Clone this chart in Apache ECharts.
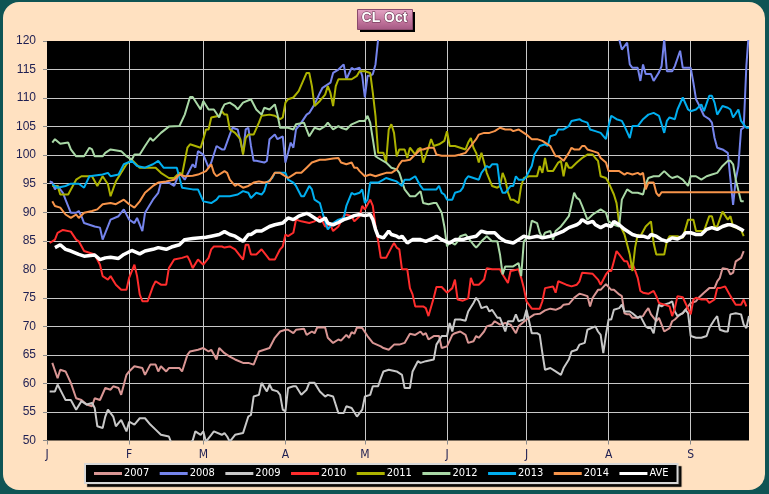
<!DOCTYPE html>
<html><head><meta charset="utf-8">
<script src="https://cdn.jsdelivr.net/npm/echarts@6/dist/echarts.min.js"></script>
<style>
html,body{margin:0;padding:0;background:#0f5454;width:769px;height:494px;overflow:hidden}
#panel{position:absolute;left:3px;top:2px;width:762px;height:488px;background:#FFE1C1;border-radius:16px}
#chart{position:absolute;left:0;top:0;width:769px;height:494px}
</style></head><body><div id="panel"></div><div id="chart"></div>
<script>
// x = calendar day of year (0 = Jan 1), y = price
const monthLetters = ['J','F','M','A','M','J','J','A','S'];
const monthStartDays = [0,31,59,90,120,151,181,212,243];
const lastDay = 265;
const yTicks = {min:50, max:120, step:5};
const seriesNames = ['2007','2008','2009','2010','2011','2012','2013','2014','AVE'];

const s2007 = [[2,63.6],[4,60.9],[5,62.4],[7,62.1],[9,60.1],[11,57.4],[13,57.1],[15,56.3],[17,56.0],[18,57.4],[20,57.1],[22,59.2],[24,58.9],[25,59.5],[27,59.2],[28,58.0],[30,61.5],[31,62.1],[33,63.0],[36,62.7],[37,61.5],[39,63.3],[41,63.3],[42,62.1],[43,63.0],[45,62.1],[46,62.7],[50,62.7],[51,62.1],[53,65.0],[54,65.6],[57,65.9],[59,66.2],[61,65.6],[62,65.9],[64,64.2],[65,66.2],[67,65.3],[69,64.7],[71,64.2],[74,63.6],[76,63.6],[78,63.3],[80,65.6],[82,65.9],[84,66.2],[86,68.0],[88,69.1],[90,69.4],[91,69.4],[93,68.8],[94,69.4],[97,69.6],[98,68.5],[100,69.1],[101,68.8],[102,69.8],[105,69.8],[106,68.0],[108,67.1],[110,67.7],[111,67.5],[113,68.5],[114,68.0],[115,69.0],[116,68.7],[117,69.8],[119,69.7],[121,68.3],[123,67.1],[126,66.5],[127,66.2],[129,65.9],[131,66.8],[133,66.8],[135,67.1],[137,68.7],[139,68.5],[141,69.1],[142,68.5],[143,68.8],[144,67.7],[146,68.3],[148,68.3],[149,66.2],[151,66.5],[153,68.5],[154,68.8],[156,69.1],[158,68.5],[159,67.1],[161,67.4],[162,68.3],[163,68.0],[165,69.1],[166,70.0],[168,70.3],[169,70.9],[171,70.3],[173,70.6],[175,70.3],[177,68.8],[178,70.0],[180,70.8],[182,71.5],[184,72.1],[186,72.2],[188,72.8],[190,73.1],[192,72.9],[194,73.3],[195,73.8],[197,73.9],[199,75.0],[201,75.7],[202,75.6],[204,75.3],[205,73.5],[206,75.0],[208,76.4],[209,76.4],[211,77.4],[213,76.4],[214,76.4],[216,75.6],[217,75.3],[218,72.3],[219,72.1],[220,72.1],[221,71.5],[223,71.5],[225,71.8],[226,72.6],[227,73.2],[228,72.1],[230,70.9],[231,71.5],[232,70.3],[233,69.1],[235,69.7],[236,70.9],[237,71.2],[239,72.1],[240,72.3],[242,73.5],[243,74.1],[245,74.4],[246,75.0],[248,75.9],[250,76.7],[252,76.7],[253,77.9],[254,78.5],[255,80.2],[257,80.0],[258,79.1],[259,79.4],[260,81.4],[262,82.0],[263,83.2]];

const s2008 = [[1,95.4],[2,95.2],[3,94.0],[4,94.6],[6,93.4],[7,92.2],[9,89.9],[11,89.9],[12,90.2],[13,89.3],[14,88.1],[18,87.5],[20,87.3],[21,85.2],[23,87.5],[24,88.7],[27,89.3],[29,90.5],[31,88.7],[33,88.1],[34,89.0],[36,86.7],[37,89.9],[40,92.2],[42,93.4],[43,95.2],[46,95.2],[48,94.6],[50,96.9],[52,95.7],[53,96.6],[55,98.4],[56,97.8],[57,100.7],[59,100.1],[61,97.8],[62,98.7],[64,101.6],[66,101.0],[67,101.0],[69,103.6],[70,104.8],[72,104.5],[74,100.4],[75,104.5],[76,104.8],[77,101.6],[78,99.0],[79,99.0],[82,98.7],[83,99.0],[84,102.8],[86,103.6],[87,102.8],[89,103.3],[90,98.7],[91,100.4],[92,102.2],[93,101.3],[94,104.5],[96,105.7],[98,107.1],[99,107.4],[101,108.9],[103,110.9],[104,111.8],[107,112.7],[108,114.4],[110,115.0],[112,115.9],[113,113.3],[115,115.3],[116,115.0],[118,115.3],[119,113.9],[120,110.1],[121,113.9],[122,113.9],[123,114.2],[124,115.9],[125,120.3],[128,124],[140,130],[160,136],[180,140],[195,134],[214,126],[216,120.3],[217,118.5],[219,119.7],[220,115.9],[221,115.3],[223,115.3],[224,113.0],[225,115.9],[226,114.2],[228,114.2],[229,113.0],[231,114.5],[232,115.6],[233,120.3],[234,114.7],[236,114.7],[237,115.6],[239,118.3],[240,115.3],[243,115.3],[244,112.7],[245,109.8],[246,108.9],[248,106.9],[250,106.3],[251,105.7],[252,103.0],[253,101.3],[255,101.0],[257,100.4],[258,95.7],[259,91.3],[260,95.7],[261,98.1],[262,104.5],[263,104.8],[264,115.6],[265,122]];

const s2009 = [[1,58.6],[3,58.6],[4,59.8],[6,58.0],[7,57.1],[9,57.1],[11,55.4],[13,56.9],[15,56.3],[17,56.6],[18,55.7],[19,52.5],[21,52.2],[22,54.2],[23,55.4],[25,54.2],[26,52.5],[28,53.6],[30,51.6],[31,53.3],[33,52.8],[35,53.9],[37,53.9],[39,52.8],[41,51.9],[43,51.0],[46,50.7],[47,49.5],[49,48.2],[52,48.5],[55,50.0],[56,51.6],[58,51.0],[59,51.6],[60,49.8],[62,51.0],[63,51.6],[66,51.0],[67,51.3],[68,50.7],[69,49.8],[71,51.0],[74,51.3],[76,54.2],[77,54.5],[78,57.7],[80,58.0],[81,60.1],[83,58.6],[84,59.8],[85,58.9],[87,58.6],[88,58.0],[89,55.4],[90,55.1],[91,59.2],[93,59.5],[94,59.5],[96,58.0],[98,58.9],[99,60.1],[101,60.1],[103,58.6],[105,57.7],[106,58.0],[108,57.7],[110,54.8],[112,54.8],[113,56.0],[115,55.7],[117,54.2],[119,55.4],[120,57.7],[122,58.0],[123,59.5],[125,59.5],[126,60.9],[127,62.1],[129,62.4],[132,62.1],[134,61.5],[135,59.2],[137,59.2],[138,62.1],[140,63.9],[141,63.6],[143,63.9],[146,64.2],[147,66.8],[149,68.3],[151,68.3],[152,70.6],[153,69.1],[154,71.2],[156,71.2],[158,71.0],[159,72.6],[161,74.1],[162,75.0],[163,74.4],[164,73.2],[166,73.5],[167,72.6],[168,72.9],[170,71.5],[171,71.5],[172,70.3],[173,69.1],[174,70.9],[176,70.9],[177,72.1],[178,70.9],[180,71.2],[181,72.9],[182,70.9],[183,68.8],[185,68.8],[186,68.5],[187,65.3],[188,62.4],[190,62.7],[192,62.1],[194,61.5],[195,62.7],[197,64.2],[198,65.6],[200,65.9],[201,66.8],[203,67.1],[204,69.4],[207,70.0],[208,69.1],[209,68.5],[210,65.3],[211,68.5],[212,71.2],[213,71.2],[214,72.9],[216,73.2],[217,73.8],[218,72.6],[220,72.6],[221,72.3],[223,71.5],[224,71.8],[226,70.0],[227,69.7],[228,69.7],[229,68.8],[230,71.5],[231,73.8],[232,73.5],[233,73.8],[235,74.1],[236,74.4],[237,72.6],[238,71.8],[240,72.3],[241,72.9],[242,72.3],[243,68.3],[245,68.0],[247,68.0],[249,68.3],[250,69.7],[252,71.2],[253,71.8],[254,69.4],[256,69.1],[257,69.1],[258,72.1],[260,72.3],[262,72.1],[263,70.3],[264,69.7],[265,71.8]];

const s2010 = [[1,84.6],[3,85.2],[4,86.4],[6,86.9],[9,86.6],[11,85.2],[12,84.9],[14,83.2],[18,82.6],[20,80.8],[21,78.8],[23,78.2],[24,78.8],[26,77.3],[28,76.4],[30,76.4],[31,78.5],[33,80.8],[34,78.8],[35,75.6],[36,74.4],[38,74.4],[40,77.0],[41,77.9],[43,77.3],[45,77.3],[46,80.2],[48,81.7],[51,82.0],[53,82.3],[54,81.4],[55,80.2],[57,81.7],[59,80.8],[61,82.0],[62,83.5],[63,84.0],[66,84.0],[67,83.8],[69,84.0],[71,83.5],[74,81.7],[75,84.3],[76,84.3],[77,82.6],[79,82.6],[81,83.5],[83,82.3],[84,81.7],[86,81.7],[88,83.5],[89,84.0],[90,86.1],[91,85.8],[93,86.4],[94,88.7],[96,88.4],[99,88.1],[101,88.4],[103,89.3],[105,87.5],[107,87.8],[108,86.7],[110,87.5],[112,89.3],[113,89.6],[115,89.3],[116,88.4],[118,89.3],[119,91.1],[120,90.5],[122,92.2],[123,91.1],[124,87.5],[125,85.0],[126,82.0],[128,82.0],[130,83.8],[131,84.6],[132,83.8],[133,83.5],[134,80.0],[136,80.0],[137,76.7],[138,75.6],[139,73.5],[142,73.5],[143,73.2],[144,71.8],[146,75.0],[147,76.9],[149,76.9],[151,75.9],[153,76.7],[154,78.2],[155,74.7],[157,74.5],[159,74.9],[160,78.5],[161,77.3],[163,77.3],[165,78.2],[166,80.2],[168,80.0],[171,80.0],[172,79.1],[174,77.6],[175,79.7],[176,79.8],[178,80.0],[179,78.5],[180,76.7],[181,74.4],[183,73.1],[186,73.1],[187,74.4],[188,76.7],[191,77.0],[192,75.9],[193,77.9],[196,77.3],[198,77.0],[200,77.3],[201,77.9],[202,79.4],[206,79.2],[208,78.2],[209,77.3],[211,79.1],[212,79.7],[213,79.7],[214,81.4],[215,83.2],[216,82.6],[218,81.4],[219,81.4],[220,80.2],[221,81.1],[223,78.5],[224,76.2],[225,75.9],[227,75.7],[229,76.2],[230,75.3],[231,74.1],[233,73.8],[235,73.5],[236,71.8],[237,73.2],[238,75.3],[240,75.1],[241,74.1],[243,72.1],[244,74.7],[245,75.0],[247,74.7],[249,74.7],[250,74.1],[252,74.7],[253,76.7],[254,76.7],[256,77.0],[258,75.3],[260,73.8],[262,73.8],[263,74.7],[264,73.5]];

const s2011 = [[2,94.6],[4,94.6],[5,93.1],[8,93.1],[11,95.7],[13,96.3],[17,96.3],[19,94.6],[21,96.3],[23,94.9],[24,92.8],[26,95.4],[28,96.9],[30,98.4],[32,99.2],[35,97.8],[38,97.8],[41,97.8],[43,96.9],[46,96.0],[48,96.0],[50,96.9],[51,96.6],[53,101.3],[54,101.9],[58,101.3],[59,102.8],[60,104.5],[61,104.5],[62,106.6],[65,106.9],[66,107.7],[67,107.1],[68,107.1],[69,104.5],[71,103.9],[73,102.8],[74,100.1],[75,103.0],[76,103.6],[78,103.6],[80,105.7],[81,106.9],[84,107.1],[86,106.9],[88,106.3],[89,106.6],[90,109.2],[91,109.8],[93,110.1],[95,111.2],[98,114.4],[99,114.4],[100,112.1],[101,108.6],[103,109.5],[105,110.6],[106,112.1],[107,110.9],[108,108.6],[109,112.1],[110,113.3],[113,113.3],[115,113.3],[117,113.9],[118,114.7],[120,114.7],[122,114.4],[123,110.9],[124,106.9],[125,100.4],[127,100.4],[128,98.7],[129,104.5],[130,105.4],[131,103.9],[132,99.8],[133,101.0],[135,101.0],[136,99.5],[137,101.3],[139,100.1],[140,101.0],[141,101.3],[142,98.7],[144,101.3],[145,102.8],[146,101.6],[148,101.9],[150,102.5],[151,104.2],[152,101.6],[154,101.6],[156,101.3],[158,101.0],[159,102.2],[160,103.0],[161,101.3],[162,100.4],[163,98.7],[164,100.4],[165,98.7],[166,96.9],[168,94.6],[170,94.3],[171,94.6],[172,96.9],[173,95.7],[174,93.5],[175,92.2],[176,92.2],[178,91.6],[179,94.6],[180,96.0],[182,96.3],[185,96.3],[186,98.1],[187,96.9],[188,99.5],[189,97.2],[191,97.2],[193,98.7],[194,99.0],[195,96.3],[196,98.7],[197,97.8],[198,97.8],[200,98.7],[202,99.5],[204,100.1],[206,100.1],[207,99.5],[208,99.0],[209,96.3],[211,96.0],[212,95.2],[214,93.1],[215,91.6],[216,88.0],[218,86.1],[220,82.6],[221,79.7],[222,83.8],[223,86.1],[224,85.8],[226,87.5],[228,88.4],[229,84.6],[230,82.6],[233,82.6],[234,84.9],[235,85.8],[238,85.8],[240,85.5],[242,88.7],[244,88.7],[245,86.7],[248,86.7],[250,89.3],[251,89.3],[252,87.5],[253,87.5],[255,90.1],[257,88.7],[258,89.3],[259,87.5],[262,86.9],[263,85.8]];

const s2012 = [[2,102.2],[3,102.8],[5,102.0],[8,102.2],[9,101.0],[11,99.8],[14,99.8],[16,101.3],[17,101.0],[18,99.8],[21,99.8],[22,100.4],[24,101.0],[28,100.7],[30,99.8],[32,99.2],[33,100.1],[35,100.1],[37,101.6],[39,103.0],[40,102.5],[43,103.9],[46,105.0],[50,105.1],[52,107.1],[54,110.2],[55,110.2],[58,108.0],[59,109.5],[61,108.0],[63,108.0],[65,106.6],[66,108.0],[67,108.9],[69,109.2],[71,108.6],[72,108.0],[74,109.2],[77,109.8],[79,108.0],[81,107.1],[82,108.3],[84,108.0],[86,108.9],[87,107.1],[88,104.8],[91,104.8],[93,104.5],[94,105.4],[97,105.7],[99,103.3],[101,104.8],[103,104.5],[105,105.1],[106,105.7],[108,104.5],[110,105.1],[111,104.8],[113,104.5],[115,105.4],[118,106.0],[120,106.0],[121,106.9],[122,105.7],[123,102.8],[124,99.8],[125,99.5],[128,98.7],[130,97.8],[132,97.5],[133,96.9],[135,94.0],[137,92.8],[139,92.8],[141,93.7],[142,91.6],[144,91.4],[146,91.6],[147,91.6],[149,89.9],[150,87.5],[151,84.0],[152,84.9],[154,84.3],[155,84.9],[156,85.8],[158,86.1],[159,85.5],[161,84.3],[162,83.8],[163,84.3],[164,84.9],[166,85.8],[168,84.9],[170,84.9],[171,82.6],[172,79.1],[173,80.5],[175,80.5],[176,80.5],[178,81.1],[179,78.8],[180,84.9],[182,86.0],[183,88.5],[185,88.1],[186,86.4],[187,85.5],[188,86.4],[190,86.7],[191,85.2],[192,86.7],[194,87.5],[195,88.1],[197,89.3],[199,93.4],[200,92.5],[201,92.2],[202,91.1],[204,88.7],[206,89.6],[208,90.2],[209,90.5],[211,89.9],[212,88.4],[213,88.1],[214,87.8],[216,87.5],[217,92.2],[219,94.0],[221,93.4],[223,93.4],[225,93.1],[226,94.9],[227,96.0],[229,96.3],[231,96.3],[233,97.2],[235,96.3],[236,96.0],[238,96.3],[240,95.7],[242,94.6],[243,96.3],[245,96.3],[247,95.7],[249,96.3],[251,96.6],[253,96.9],[255,98.1],[257,99.0],[258,99.0],[259,98.4],[260,95.7],[262,91.9],[263,91.9]];

const s2013 = [[2,94.9],[4,94.3],[7,94.6],[9,95.0],[12,95.0],[14,94.3],[16,96.3],[21,96.6],[23,96.9],[24,96.3],[27,96.6],[29,98.4],[32,99.0],[34,98.1],[37,97.8],[40,98.4],[42,99.0],[44,97.8],[47,97.8],[49,97.8],[51,94.3],[55,94.0],[57,94.0],[59,91.9],[62,91.6],[64,92.2],[65,92.8],[67,92.8],[69,92.8],[72,93.1],[74,93.7],[76,93.4],[77,92.5],[79,93.4],[81,93.1],[82,93.7],[83,95.2],[85,96.0],[86,96.9],[90,96.9],[91,95.7],[93,95.2],[94,94.6],[96,92.8],[97,92.8],[99,94.6],[100,94.0],[101,92.2],[103,91.6],[104,89.9],[105,88.4],[106,87.0],[108,88.1],[110,88.7],[112,89.0],[113,91.1],[115,93.4],[116,93.1],[118,93.4],[119,94.0],[120,91.6],[121,92.2],[122,95.2],[125,95.2],[127,95.7],[128,96.0],[130,95.7],[132,95.4],[134,94.6],[135,95.7],[137,95.7],[139,96.3],[141,94.6],[142,94.0],[144,94.0],[147,94.0],[148,94.6],[149,93.4],[150,93.1],[151,92.2],[153,92.2],[154,93.4],[156,93.7],[157,94.3],[158,95.7],[159,96.3],[161,96.0],[163,95.7],[164,96.9],[166,98.1],[167,97.8],[168,98.4],[170,98.4],[171,94.6],[172,93.4],[173,93.4],[175,94.6],[176,94.6],[177,96.3],[178,95.7],[180,95.7],[181,96.3],[183,98.1],[184,100.1],[186,101.6],[188,101.9],[189,101.6],[190,103.3],[192,103.6],[193,104.5],[195,104.5],[197,105.1],[198,106.0],[201,106.3],[202,106.0],[204,105.7],[205,104.5],[207,104.2],[209,103.9],[211,102.8],[212,105.1],[213,106.9],[215,106.3],[217,106.0],[218,105.1],[220,103.0],[221,105.1],[223,105.1],[224,105.7],[225,106.3],[227,107.1],[229,107.4],[231,106.9],[232,105.4],[233,103.9],[234,106.0],[235,106.6],[237,106.3],[238,108.0],[240,110.1],[242,108.0],[243,107.7],[245,108.0],[247,108.9],[248,107.7],[250,110.4],[251,110.4],[252,109.2],[253,107.1],[255,108.6],[257,108.3],[258,108.0],[259,106.6],[261,108.0],[262,106.0],[264,104.8],[265,104.8]];

const s2014 = [[2,91.9],[3,91.1],[5,90.8],[7,89.6],[9,89.0],[11,89.6],[12,89.0],[14,89.9],[17,90.2],[19,90.5],[21,91.4],[24,91.6],[26,91.4],[29,92.2],[31,91.4],[33,90.8],[35,91.9],[37,93.4],[40,94.6],[42,95.2],[45,95.4],[48,95.7],[50,96.6],[52,96.3],[55,96.4],[57,96.6],[60,97.2],[62,98.4],[63,96.9],[64,96.3],[66,96.9],[67,97.2],[68,96.9],[69,95.7],[71,94.6],[72,94.9],[74,94.3],[76,94.6],[78,95.2],[80,95.4],[82,95.2],[84,95.4],[86,96.9],[88,96.9],[89,96.6],[91,96.0],[93,96.6],[94,96.9],[96,96.9],[98,97.8],[100,98.7],[103,99.2],[105,99.2],[108,99.4],[110,99.5],[111,98.7],[113,98.4],[115,98.7],[116,97.8],[117,97.8],[118,97.2],[120,96.3],[122,96.6],[124,96.3],[126,96.6],[128,96.9],[130,96.9],[132,97.5],[133,98.4],[134,99.0],[135,99.0],[137,99.2],[139,100.1],[141,101.0],[142,101.0],[144,101.3],[146,101.3],[147,100.1],[149,99.9],[152,99.9],[154,99.9],[156,100.1],[158,100.4],[160,101.6],[162,102.8],[163,103.6],[165,103.9],[167,103.9],[169,104.2],[171,104.8],[173,104.5],[175,104.5],[176,104.2],[178,104.5],[180,103.9],[181,103.6],[183,102.8],[185,102.8],[187,102.5],[188,102.2],[190,101.6],[191,100.7],[192,99.8],[193,99.8],[195,99.0],[197,100.4],[198,101.3],[199,101.0],[201,101.0],[202,101.6],[203,101.6],[204,101.0],[206,100.7],[208,100.4],[209,99.5],[211,98.7],[212,97.2],[214,97.2],[216,97.2],[218,96.6],[219,96.9],[221,96.6],[223,96.9],[224,96.6],[225,96.9],[226,94.0],[227,95.2],[229,95.2],[230,93.4],[231,92.8],[232,93.5],[265,93.5]];

const sAVE = [[3,83.8],[5,84.3],[7,83.5],[9,83.2],[12,82.6],[14,82.3],[18,82.5],[20,81.7],[22,82.0],[24,82.1],[27,81.9],[29,82.6],[32,83.3],[35,82.7],[37,83.2],[40,83.5],[42,83.8],[45,83.5],[47,83.9],[50,84.3],[52,85.2],[55,85.4],[57,85.5],[60,85.6],[62,85.8],[65,86.1],[67,86.6],[69,86.1],[71,85.8],[74,84.9],[76,86.1],[77,86.1],[79,86.7],[81,86.7],[84,87.5],[86,87.8],[89,88.1],[91,89.0],[93,88.7],[95,89.3],[98,89.8],[99,89.6],[101,89.0],[103,88.4],[105,89.0],[106,88.1],[108,87.8],[110,88.2],[112,88.7],[114,89.0],[116,89.4],[118,89.6],[120,89.4],[122,89.6],[123,88.7],[124,87.0],[125,85.8],[127,85.5],[128,86.1],[129,86.7],[130,86.1],[132,85.8],[133,85.5],[134,85.8],[136,84.6],[138,85.2],[141,85.2],[143,84.9],[146,85.5],[147,85.8],[149,85.2],[152,84.6],[154,85.2],[157,85.2],[159,85.5],[162,85.8],[164,86.7],[166,86.4],[169,86.4],[171,85.5],[173,84.9],[176,84.6],[178,85.2],[180,85.8],[182,85.5],[185,85.8],[187,85.5],[190,85.8],[192,86.1],[195,86.7],[197,87.3],[200,87.8],[201,88.1],[202,88.7],[204,88.1],[206,88.4],[207,87.8],[209,87.3],[211,87.8],[213,87.5],[214,88.4],[216,87.8],[218,87.0],[219,86.7],[221,86.1],[223,85.8],[225,85.8],[227,85.5],[228,86.1],[230,85.8],[232,85.2],[234,84.9],[236,85.5],[238,85.3],[240,85.8],[241,86.4],[243,86.4],[245,86.1],[247,86.1],[249,87.0],[251,87.3],[253,87.0],[255,87.5],[257,87.8],[258,87.8],[260,87.5],[262,87.0],[263,86.7]];

const seriesData = [s2007,s2008,s2009,s2010,s2011,s2012,s2013,s2014,sAVE];
const seriesColors = ['#D99694','#7584EC','#C8C8C8','#FF2D2D','#ADB300','#A9D8A6','#00AEEF','#F7944A','#FFFFFF'];
const seriesWidths = [2,2,2,2,2,2,2,2,3.5];

// categories: one per calendar day, month letter at month starts
const categories = [];
for (let d = 0; d <= lastDay; d++) {
  const m = monthStartDays.indexOf(d);
  categories.push(m >= 0 ? monthLetters[m] : '');
}
const isMonthStart = (i) => monthStartDays.indexOf(i) >= 0;

const narrow = "'Liberation Sans Narrow','DejaVu Sans Condensed','Liberation Sans',Arial,sans-serif";
const labelColor = '#1E1E52';

const chart = echarts.init(document.getElementById('chart'), null, {renderer:'canvas'});
chart.setOption({
  backgroundColor: 'transparent',
  animation: false,
  grid: {left:47, right:20, top:41, bottom:53.5, show:true, backgroundColor:'#000000', borderWidth:0},
  xAxis: {
    type:'category', data:categories, boundaryGap:false,
    axisLine:{show:false},
    axisTick:{show:true, interval:(i)=>isMonthStart(i), length:4, lineStyle:{color:'#8a8a8a'}},
    axisLabel:{interval:(i)=>isMonthStart(i), color:labelColor, fontSize:12, fontFamily:narrow, margin:8},
    splitLine:{show:true, interval:(i)=>isMonthStart(i) && i>0, lineStyle:{color:'#C8C8C8', width:1}}
  },
  yAxis: {
    type:'value', min:yTicks.min, max:yTicks.max, interval:yTicks.step,
    axisLine:{show:false},
    axisTick:{show:true, length:4, lineStyle:{color:'#8a8a8a'}},
    axisLabel:{color:labelColor, fontSize:12, fontFamily:"'Liberation Sans',Arial,sans-serif", margin:11},
    splitLine:{show:true, showMinLine:false, showMaxLine:false, lineStyle:{color:'#C8C8C8', width:1}}
  },
  legend: {
    data: seriesNames,
    left: 85, top: 464,
    padding: [4, 9],
    itemGap: 10.5, itemWidth: 28, itemHeight: 3,
    icon: 'rect',
    backgroundColor:'#000000', borderColor:'#D8D8D8', borderWidth:2,
    shadowColor:'rgba(0,0,0,0.85)', shadowBlur:1, shadowOffsetX:3, shadowOffsetY:3,
    textStyle:{color:'#FFFFFF', fontSize:11, fontFamily:narrow, padding:[0,0,0,-3]}
  },
  graphic: [
    {type:'rect', left:360, top:12, shape:{width:55, height:20}, style:{fill:'#000000'}},
    {type:'rect', left:357, top:9, shape:{width:55, height:20},
      style:{fill:new echarts.graphic.LinearGradient(0,0,0,1,[{offset:0,color:'#E4A6C6'},{offset:0.5,color:'#C77BA2'},{offset:1,color:'#A45782'}]), stroke:'#8a4a6c', lineWidth:1}},
    {type:'text', left:'center', top:11, x:0,
      style:{text:'CL Oct', fill:'#FFFFFF', font:"bold 14px 'Liberation Sans',Arial,sans-serif", stroke:'#5a2a44', lineWidth:1}}
  ],
  series: seriesNames.map((n, k) => ({
    name:n, type:'line', data:seriesData[k], showSymbol:false, symbol:'none', clip:true,
    lineStyle:{color:seriesColors[k], width:seriesWidths[k]}, itemStyle:{color:seriesColors[k]},
    z: k === 8 ? 5 : 2
  }))
});
</script>
</body></html>
